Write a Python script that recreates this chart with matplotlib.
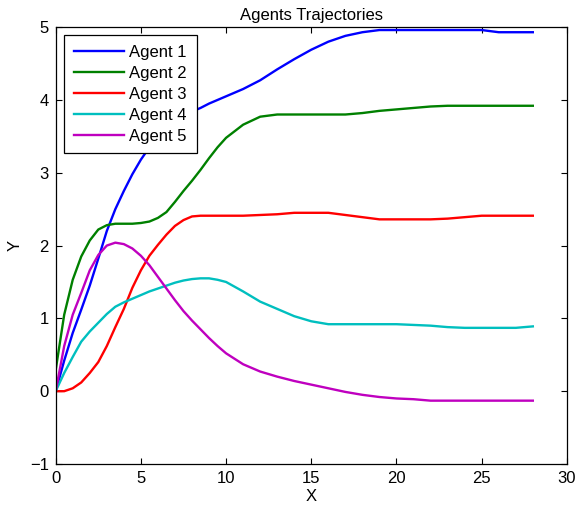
import matplotlib
matplotlib.use('Agg')
import matplotlib.pyplot as plt

# sample times shared by all agents
x = [0, 0.5, 1, 1.5, 2, 2.5, 3, 3.5, 4, 4.5, 5, 5.5, 6, 6.5, 7, 7.5, 8, 8.5, 9, 9.5, 10,
     11, 12, 13, 14, 15, 16, 17, 18, 19, 20, 21, 22, 23, 24, 25, 26, 27, 28]

agent1 = [0, 0.42, 0.8, 1.12, 1.45, 1.82, 2.2, 2.5, 2.75, 2.98, 3.18, 3.35, 3.5, 3.62, 3.71,
          3.78, 3.84, 3.89, 3.95, 4.0, 4.05,
          4.15, 4.27, 4.42, 4.56, 4.69, 4.8, 4.88, 4.93, 4.96, 4.96, 4.96, 4.96, 4.96, 4.96,
          4.96, 4.93, 4.93, 4.93]
agent2 = [0.29, 1.05, 1.53, 1.85, 2.07, 2.22, 2.28, 2.3, 2.3, 2.3, 2.31, 2.33, 2.38, 2.46, 2.6,
          2.75, 2.89, 3.04, 3.2, 3.35, 3.48,
          3.66, 3.77, 3.8, 3.8, 3.8, 3.8, 3.8, 3.82, 3.85, 3.87, 3.89, 3.91, 3.92, 3.92,
          3.92, 3.92, 3.92, 3.92]
agent3 = [0, 0, 0.04, 0.12, 0.25, 0.4, 0.62, 0.88, 1.13, 1.42, 1.66, 1.86, 2.01, 2.15, 2.27,
          2.35, 2.4, 2.41, 2.41, 2.41, 2.41,
          2.41, 2.42, 2.43, 2.45, 2.45, 2.45, 2.42, 2.39, 2.36, 2.36, 2.36, 2.36, 2.37, 2.39,
          2.41, 2.41, 2.41, 2.41]
agent4 = [0, 0.25, 0.47, 0.68, 0.82, 0.94, 1.06, 1.16, 1.22, 1.27, 1.32, 1.37, 1.41, 1.45, 1.49,
          1.52, 1.54, 1.55, 1.55, 1.53, 1.5,
          1.37, 1.23, 1.13, 1.03, 0.96, 0.92, 0.92, 0.92, 0.92, 0.92, 0.91, 0.9, 0.88, 0.87,
          0.87, 0.87, 0.87, 0.89]
agent5 = [0, 0.62, 1.05, 1.35, 1.66, 1.87, 2.0, 2.04, 2.02, 1.96, 1.86, 1.73, 1.57, 1.41, 1.25,
          1.1, 0.97, 0.85, 0.73, 0.62, 0.52,
          0.37, 0.27, 0.2, 0.14, 0.09, 0.04, -0.01, -0.05, -0.08, -0.1, -0.11, -0.13, -0.13, -0.13,
          -0.13, -0.13, -0.13, -0.13]

labels = ['Agent 1', 'Agent 2', 'Agent 3', 'Agent 4', 'Agent 5']
colors = ['#0000ff', '#008000', '#ff0000', '#00bfbf', '#bf00bf']

plt.rcParams['font.family'] = ['Liberation Sans', 'DejaVu Sans']

fig = plt.figure(figsize=(5.77, 5.08), dpi=100)
ax = fig.add_axes([0.0965, 0.0866, 0.886, 0.86])

for ys, color, label in zip([agent1, agent2, agent3, agent4, agent5], colors, labels):
    ax.plot(x, ys, color=color, linewidth=1.7, label=label)

ax.set_xlim(0, 30)
ax.set_ylim(-1, 5)
ax.set_xticks([0, 5, 10, 15, 20, 25, 30])
ax.set_yticks([-1, 0, 1, 2, 3, 4, 5])
ax.set_yticklabels(['\u22121', '0', '1', '2', '3', '4', '5'])
ax.tick_params(direction='in', top=True, right=True, length=4, width=0.8,
               labelsize=12, pad=5)
for s in ax.spines.values():
    s.set_linewidth(0.9)

ax.set_title('Agents Trajectories', fontsize=12, pad=5)
ax.set_xlabel('X', fontsize=12, labelpad=2)
ax.set_ylabel('Y', fontsize=12, labelpad=5)

leg = ax.legend(loc='upper left', bbox_to_anchor=(0.016, 0.982), borderaxespad=0,
                fancybox=False, edgecolor='black', framealpha=1, fontsize=12,
                handlelength=3.0, handletextpad=0.35, labelspacing=0.36, borderpad=0.58)
leg.get_frame().set_linewidth(0.9)

fig.savefig('out.png', dpi=100)
